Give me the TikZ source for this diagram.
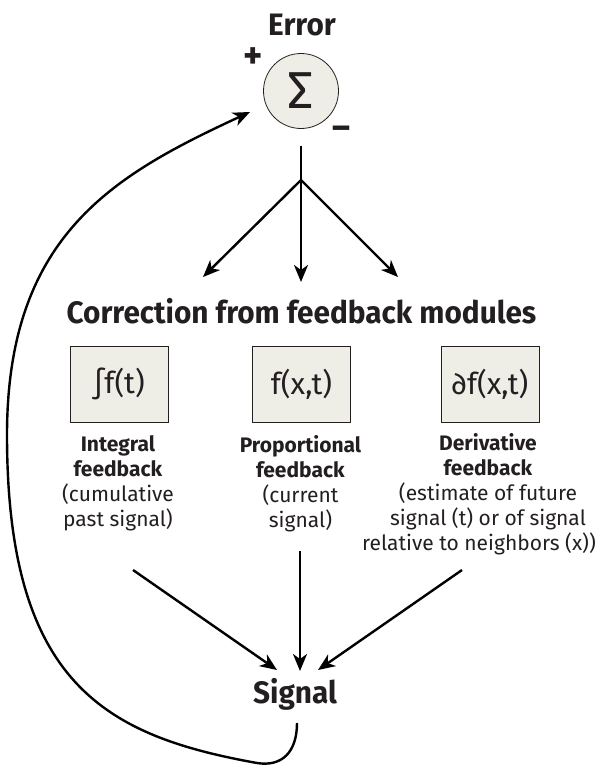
\documentclass[tikz,border=0pt]{standalone}
\usepackage{fontspec}
\setmainfont{Fira Sans}
\newfontfamily\headfont{Fira Sans}[FakeStretch=0.96]
\usetikzlibrary{arrows.meta}
\definecolor{boxfill}{RGB}{238,238,230}
\definecolor{ink}{RGB}{35,31,32}

\begin{document}
\begin{tikzpicture}[x=1pt,y=-1pt]
\tikzstyle{every node}+=[inner sep=0pt, text=ink]
\tikzstyle{heading}=[anchor=base, font=\headfont\bfseries\fontsize{31}{31}\selectfont]
\tikzstyle{modbox}=[draw=ink, line width=0.8pt, fill=boxfill, minimum width=98pt, minimum height=76pt, font=\fontsize{30}{30}\selectfont]
\tikzstyle{caption}=[anchor=north, align=center, font=\fontsize{21}{25}\selectfont]
\tikzstyle{arr}=[draw=black, line width=2.4pt, -{Stealth[length=17pt,width=14pt,inset=5pt]}]
\useasboundingbox (0,0) rectangle (601,766);
% summing junction
\node [heading] (error) at (302,35) {Error};
\node [circle, draw=ink, line width=0.8pt, fill=boxfill, minimum size=75pt, font=\fontsize{52}{52}\selectfont] (sum) at (301,91) {Σ};
\node [font=\headfont\bfseries\fontsize{38}{38}\selectfont] (plus) at (253,58) {+};
\node [font=\headfont\bfseries\fontsize{36}{36}\selectfont] (minus) at (341,133) {–};
% split into the three modules
\coordinate (fork) at (301,180);
\coordinate (toint) at (203,277);
\coordinate (toprop) at (301,282);
\coordinate (toderiv) at (398,277);
\draw [black, line width=2.4pt, shorten <=17pt] (sum.south) -- (fork);
\draw [arr] (fork) -- (toint);
\draw [arr] (fork) -- (toprop);
\draw [arr] (fork) -- (toderiv);
\node [heading] (correction) at (301.5,323) {Correction from feedback modules};
% modules
\node [modbox] (integral) at (119,384) {\raisebox{-8pt}{∫f(t)}};
\node [modbox] (proportional) at (301.5,384) {\raisebox{-8pt}{f(x,t)}};
\node [modbox] (derivative) at (490,384.5) {\raisebox{-8pt}{∂f(x,t)}};
\node [caption] (intlabel) at (118,435) {\textbf{Integral}\\\textbf{feedback}\\(cumulative\\past signal)};
\node [caption] (proplabel) at (300.5,435) {\textbf{Proportional}\\\textbf{feedback}\\(current\\signal)};
\node [caption] (derivlabel) at (488,433) {\textbf{Derivative}\\\textbf{feedback}\\(estimate of future\\signal (t) or of signal\\\hspace*{-18pt}relative to neighbors (x))};
% back to the signal
\node [heading] (signal) at (295,703) {Signal};
\coordinate (fromint) at (133,570);
\coordinate (fromprop) at (300,551);
\coordinate (fromderiv) at (462,570);
\coordinate (intend) at (277,670);
\coordinate (propend) at (300,671);
\coordinate (derivend) at (318,670);
\draw [arr] (fromint) -- (intend);
\draw [arr] (fromprop) -- (propend);
\draw [arr] (fromderiv) -- (derivend);
% feedback loop
\coordinate (loopstart) at (297,723);
\coordinate (loopbottom) at (257,763);
\coordinate (loopleft) at (7,435);
\coordinate (loopend) at (250,112);
\draw [arr] (loopstart) .. controls (297,752) and (282,767) .. (loopbottom)
  .. controls (107,736) and (7,685) .. (loopleft)
  .. controls (7,235) and (114,175) .. (loopend);
\end{tikzpicture}
\end{document}
